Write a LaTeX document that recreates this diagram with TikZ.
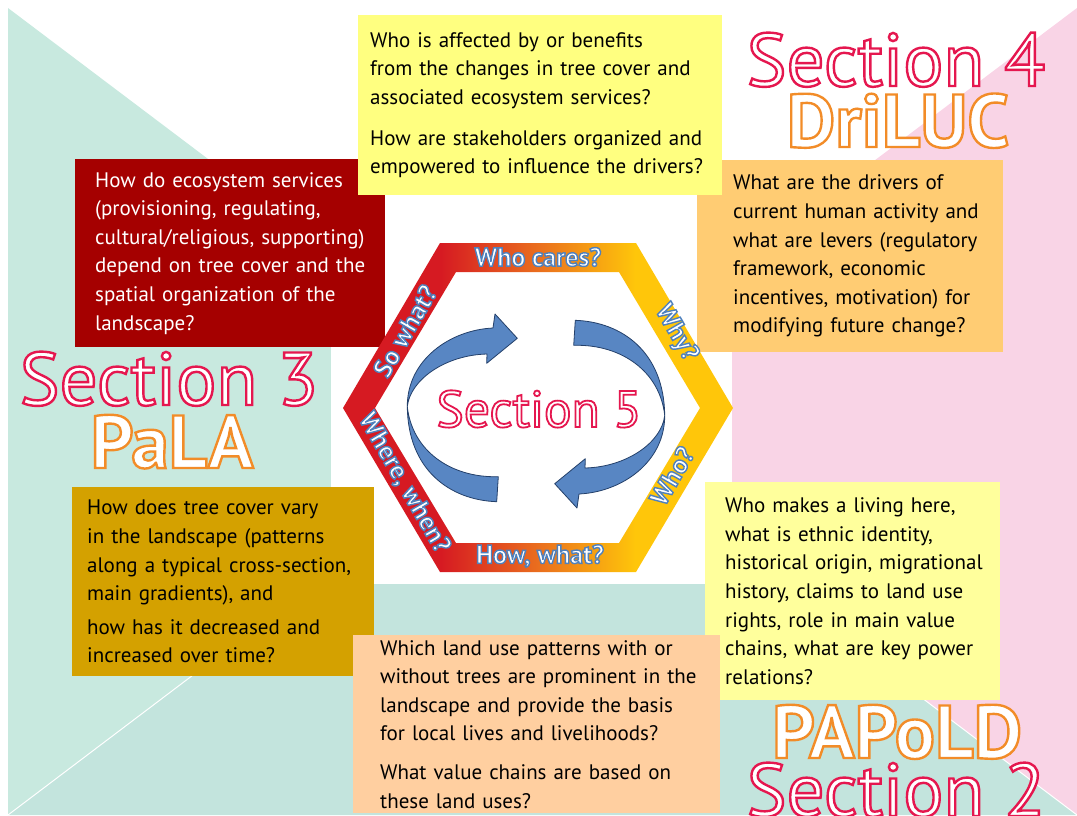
\documentclass[tikz,border=0pt]{standalone}
\usepackage{fontspec}
\setmainfont{PT Sans}

\definecolor{leftgreen}{HTML}{C8E9DF}
\definecolor{botgreen}{HTML}{C3E4DD}
\definecolor{rightpink}{HTML}{F9D4E6}
\definecolor{topyellow}{HTML}{FFFF80}
\definecolor{sideyellow}{HTML}{FFFF9C}
\definecolor{boxred}{HTML}{A50000}
\definecolor{boxorange}{HTML}{FFCC73}
\definecolor{boxgold}{HTML}{D4A100}
\definecolor{boxpeach}{HTML}{FFCFA0}
\definecolor{hexred}{HTML}{D61A22}
\definecolor{hexorange}{HTML}{EA6E1E}
\definecolor{hexyellow}{HTML}{FFC60A}
\definecolor{arrowblue}{HTML}{5886C3}
\definecolor{arrowline}{HTML}{24406A}

\pgfdeclarehorizontalshading{hexband}{100bp}{color(0bp)=(hexred); color(37.5bp)=(hexred); color(50bp)=(hexorange); color(62.5bp)=(hexyellow); color(100bp)=(hexyellow)}

% white letters with a coloured outline (rgb of the outline, its width in bp)
\newcommand{\strokedtext}[3]{\special{pdf:literal direct #1 RG #2 w 2 Tr}#3\special{pdf:literal direct 0 Tr}}
\newcommand{\redline}[1]{\strokedtext{0.898 0.090 0.310}{2.4}{#1}}
\newcommand{\orangeline}[1]{\strokedtext{0.949 0.549 0.157}{2.4}{#1}}
\newcommand{\blueline}[1]{\strokedtext{0.310 0.506 0.741}{1.4}{#1}}

\begin{document}
\begin{tikzpicture}[x=1pt,y=-1pt,
    qbox/.style={anchor=north west, align=left, inner ysep=0pt, text=black, font=\fontsize{21}{28.6}\selectfont,
        execute at begin node={\rightskip=-40pt plus 1fil\relax}},
    title/.style={anchor=base, text=white, font=\fontsize{75}{75}\selectfont},
    acronym/.style={anchor=base, text=white, font=\fontsize{75}{75}\selectfont\bfseries},
    hexlabel/.style={text=white, font=\fontsize{26}{26}\selectfont\bfseries},
    cyclearrow/.style={fill=arrowblue, draw=arrowline, line width=0.8pt, line join=round}]

\useasboundingbox (0,0) rectangle (1077,815);

%%%%%%%%%%%%%%%%%%%% Background %%%%%%%%%%%%%%%%%%%%%%%%%%
\coordinate (tl) at (8,8);
\coordinate (tr) at (1077,8);
\coordinate (bl) at (8,815);
\coordinate (br) at (1077,815);
\coordinate (mid) at (542,411);
\fill[leftgreen] (tl) -- (bl) -- (mid) -- cycle;
\fill[botgreen] (bl) -- (br) -- (mid) -- cycle;
\fill[rightpink] (tr) -- (br) -- (mid) -- cycle;
\draw[white, line width=1pt] (bl) -- (mid) -- (br);
\fill[white] (331,200) rectangle (732,584);

%%%%%%%%%%%%%%%%%%%% Question boxes %%%%%%%%%%%%%%%%%%%%%%%%%%
\node[qbox, fill=boxred, text=white, minimum width=310pt, minimum height=188pt, text width=270pt, inner xsep=20pt] (q3a) at (75,159)
{How do ecosystem services\\
(provisioning, regulating,\\
cultural/religious, supporting)\\
depend on tree cover and the\\
spatial organization of the\\
landscape?};

\node[qbox, fill=boxorange, minimum width=306pt, minimum height=192pt, text width=234pt, inner xsep=36pt] (q4b) at (697,160)
{What are the drivers of\\
current human activity and\\
what are levers (regulatory\\
framework, economic\\
incentives, motivation) for\\
modifying future change?};

\node[qbox, fill=topyellow, minimum width=364pt, minimum height=180pt, text width=340pt, inner xsep=12pt] (q4a) at (358,15)
{Who is affected by or benefits\\
from the changes in tree cover and\\
associated ecosystem services?\\[12pt]
How are stakeholders organized and\\
empowered to influence the drivers?};

\node[qbox, fill=boxgold, minimum width=302pt, minimum height=189pt, text width=272pt, inner xsep=15pt] (q3b) at (72,487)
{How does tree cover vary\\
in the landscape (patterns\\
along a typical cross-section,\\
main gradients), and\\[5pt]
how has it decreased and\\
increased over time?};

\node[qbox, fill=sideyellow, minimum width=295pt, minimum height=218pt, text width=255pt, inner xsep=20pt] (q2a) at (705,482)
{Who makes a living here,\\
what is ethnic identity,\\
historical origin, migrational\\
history, claims to land use\\
rights, role in main value\\
chains, what are key power\\
relations?};

\node[qbox, fill=boxpeach, minimum width=367pt, minimum height=178pt, text width=313pt, inner xsep=27pt] (q2b) at (353,635)
{Which land use patterns with or\\
without trees are prominent in the\\
landscape and provide the basis\\
for local lives and livelihoods?\\[10pt]
What value chains are based on\\
these land uses?};

%%%%%%%%%%%%%%%%%%%% Section titles %%%%%%%%%%%%%%%%%%%%%%%%%%
\node[title] (s4) at (896,86) {\redline{Section 4}};
\node[acronym] (driluc) at (898,147) {\orangeline{DriLUC}};
\node[title] (s3) at (169,405) {\redline{Section 3}};
\node[acronym] (pala) at (172,468) {\orangeline{PaLA}};
\node[acronym] (papold) at (897,758) {\orangeline{PAPoLD}};
\node[title] (s2) at (896,816) {\redline{Section 2}};

%%%%%%%%%%%%%%%%%%%% Hexagon %%%%%%%%%%%%%%%%%%%%%%%%%%
\path[shading=hexband, even odd rule]
    (343,408) -- (440,243) -- (636,243) -- (733,408) -- (636,572) -- (440,572) -- cycle
    (375,408) -- (456,272) -- (619,272) -- (700,408) -- (619,543) -- (456,543) -- cycle;

\node[hexlabel] (wc) at (538,257) {\blueline{Who cares?}};
\node[hexlabel, rotate=-60] (why) at (676,333) {\blueline{Why?}};
\node[hexlabel, rotate=60] (who) at (672,476) {\blueline{Who?}};
\node[hexlabel] (hw) at (540,556) {\blueline{How, what?}};
\node[hexlabel, rotate=-60] (ww) at (404,483) {\blueline{Where, when?}};
\node[hexlabel, rotate=60] (sw) at (405,331) {\blueline{So what?}};

% the two turning arrows
\foreach \ang in {0,180}
{
    \path[cyclearrow, rotate around={\ang:(536,411)}]
        (496.7,501.7) .. controls (450,500) and (408,470) .. (407.3,406.7)
        .. controls (407,360) and (450,330) .. (493,328)
        -- (495,314) -- (517.3,338.3) -- (486.7,363.3) -- (487,354)
        .. controls (445,355) and (410,380) .. (407.3,406.7)
        .. controls (412,450) and (450,478) .. (498.3,476.7) -- cycle;
}

\node[title, font=\fontsize{51.5}{51.5}\selectfont] (s5) at (539,427) {\strokedtext{0.898 0.090 0.310}{1.8}{Section 5}};

\end{tikzpicture}
\end{document}
